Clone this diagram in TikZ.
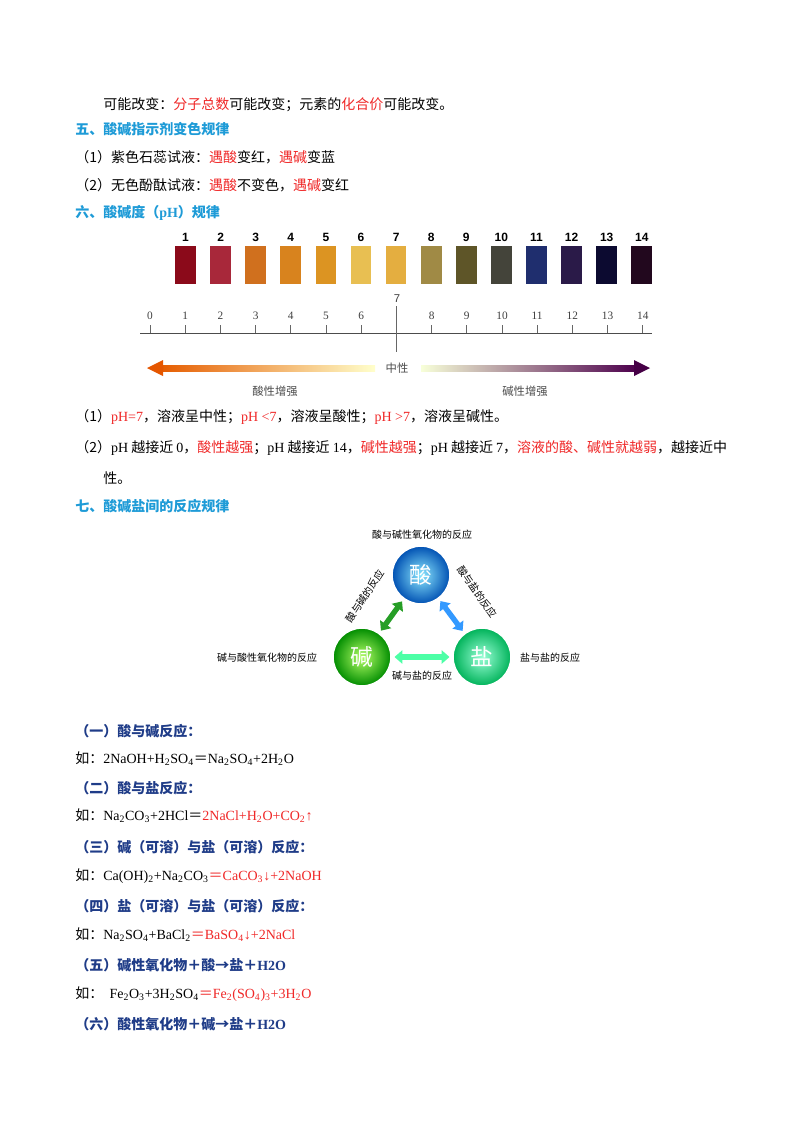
\documentclass[tikz,border=0pt]{standalone}
\usepackage{fontspec}
\setmainfont{Liberation Serif}
\newfontfamily\zh{Noto Sans CJK SC}
\newfontfamily\lsans{Liberation Sans}
\usetikzlibrary{arrows.meta}
\definecolor{hblue}{HTML}{1E9BD7}
\definecolor{dblue}{HTML}{1F3C88}
\definecolor{rd}{HTML}{F02828}
\newcommand\lat[1]{{\rmfamily #1}}
\newcommand\sbs[1]{\textsubscript{#1}}
\newcommand\R[1]{\textcolor{rd}{#1}}
\tikzset{
 txt/.style={anchor=west,inner sep=0,font=\zh\fontsize{10.5}{12}\selectfont},
 head/.style={txt,font=\zh\bfseries\fontsize{10.5}{12}\selectfont,text=hblue},
 subh/.style={txt,font=\zh\bfseries\fontsize{10.5}{12}\selectfont,text=dblue},
 sw/.style={minimum width=15.5pt,minimum height=28.5pt,inner sep=0},
 swn/.style={font=\lsans\bfseries\fontsize{9}{10}\selectfont,inner sep=0},
 axn/.style={font=\rmfamily\fontsize{8.5}{10}\selectfont,inner sep=0,text=black!75},
 lab/.style={font=\zh\fontsize{7.5}{9}\selectfont,inner sep=0},
 ball/.style={circle,minimum size=43.5pt,inner sep=0,draw=white,line width=1.2pt,text=white,font=\zh\fontsize{17}{19}\selectfont},
 dbl/.style={line width=4pt,{Triangle[width=10pt,length=6pt]}-{Triangle[width=10pt,length=6pt]},shorten <=2pt,shorten >=2pt}
}
\begin{document}
\begin{tikzpicture}[x=0.75pt,y=-0.75pt]
\useasboundingbox[fill=white] (0,0) rectangle (800,1132);
\node[txt] (l1) at (103,105) {可能改变：\R{分子总数}可能改变；元素的\R{化合价}可能改变。};
\node[head] (h5) at (75,129) {五、酸碱指示剂变色规律};
\node[txt] (l2) at (75,157) {（1）紫色石蕊试液：\R{遇酸}变红，\R{遇碱}变蓝};
\node[txt] (l3) at (75,185) {（2）无色酚酞试液：\R{遇酸}不变色，\R{遇碱}变红};
\node[head] (h6) at (75,213) {六、酸碱度（\lat{pH}）规律};
% swatches
\foreach \i/\c in {1/8B0A1A,2/A8283A,3/D0701E,4/D8831E,5/DC9422,6/E8BF52,7/E4AE40,8/A08A45,9/5E5528,10/44443A,11/1F2E6E,12/2A1A48,13/0C0A30,14/22081E}{
  \definecolor{swc}{HTML}{\c}
  \node[sw,fill=swc] (s\i) at ({185.5+(\i-1)*35.1},265) {};
  \node[swn] (sn\i) at ({185.5+(\i-1)*35.1},237) {\i};
}
% axis
\coordinate (a0) at (140,333); \coordinate (a1) at (652,333);
\draw[black!70,line width=0.6pt] (a0) -- (a1);
\foreach \i in {0,...,14}{
  \ifnum\i=7\else
  \draw[black!60,line width=0.5pt] ({150+\i*35.2},333) -- ({150+\i*35.2},325);
  \node[axn] (t\i) at ({150+\i*35.2},316) {\i};
  \fi
}
\draw[black!60,line width=0.5pt] (396.4,306) -- (396.4,352);
\node[axn,font=\lsans\fontsize{8.5}{10}\selectfont] (t7) at (397,299) {7};
\shade[left color=orange!80!red!90!black,middle color=yellow!75!orange,right color=yellow!20] (160,365) rectangle (375,371);
\fill[orange!75!red!90!black] (147,368) -- (163,360) -- (163,376) -- cycle;
\shade[left color=green!20!yellow!15,middle color=green!45!black!75,right color=violet!60!black] (421,365) rectangle (637,371);
\fill[violet!55!black] (650,368) -- (634,360) -- (634,376) -- cycle;
\node[lab,font=\zh\fontsize{8.5}{10}\selectfont,text=black!70] (zx) at (397,368) {中性};
\node[lab,font=\zh\fontsize{8.5}{10}\selectfont,text=black!70] (sx) at (275,391) {酸性增强};
\node[lab,font=\zh\fontsize{8.5}{10}\selectfont,text=black!70] (jx) at (525,391) {碱性增强};
% lines
\node[txt] (p1) at (75,417) {（1）\R{\lat{pH=7}}，溶液呈中性；\R{\lat{pH <7}}，溶液呈酸性；\R{\lat{pH >7}}，溶液呈碱性。};
\node[txt] (p2) at (75,448) {（2）\lat{pH} 越接近 \lat{0}，\R{酸性越强}；\lat{pH} 越接近 \lat{14}，\R{碱性越强}；\lat{pH} 越接近 \lat{7}，\R{溶液的酸、碱性就越弱}，越接近中};
\node[txt] (p3) at (103,478) {性。};
\node[head] (h7) at (75,506) {七、酸碱盐间的反应规律};
% triangle
\node[ball,inner color=blue!20!cyan!45,outer color=blue!55!cyan!70!black] (acid) at (421,575) {酸};
\node[ball,inner color=green!50!yellow!60,outer color=green!55!black] (base) at (362,657) {碱};
\node[ball,inner color=green!40!cyan!40,outer color=green!50!cyan!70!black] (salt) at (482,657) {盐};
\draw[dbl,green!55!black!85] (base) -- (acid);
\draw[dbl,blue!50!cyan!80] (acid) -- (salt);
\draw[dbl,green!50!cyan!70] (base) -- (salt);
\node[lab] (la) at (422,535) {酸与碱性氧化物的反应};
\node[lab] (lb) at (267,658) {碱与酸性氧化物的反应};
\node[lab] (lc) at (550,658) {盐与盐的反应};
\node[lab] (ld) at (422,676) {碱与盐的反应};
\node[lab,rotate=57] (le) at (365,596) {酸与碱的反应};
\node[lab,rotate=-55] (lf) at (477,592) {酸与盐的反应};
% reactions
\node[subh] (r1) at (75,731) {（一）酸与碱反应：};
\node[txt] (e1) at (75,759) {如：\lat{2NaOH+H\sbs{2}SO\sbs{4}}＝\lat{Na\sbs{2}SO\sbs{4}+2H\sbs{2}O}};
\node[subh] (r2) at (75,788) {（二）酸与盐反应：};
\node[txt] (e2) at (75,816) {如：\lat{Na\sbs{2}CO\sbs{3}+2HCl}＝\R{\lat{2NaCl+H\sbs{2}O+CO\sbs{2}↑}}};
\node[subh] (r3) at (75,847) {（三）碱（可溶）与盐（可溶）反应：};
\node[txt] (e3) at (75,876) {如：\lat{Ca(OH)\sbs{2}+Na\sbs{2}CO\sbs{3}}\R{＝\lat{CaCO\sbs{3}↓+2NaOH}}};
\node[subh] (r4) at (75,906) {（四）盐（可溶）与盐（可溶）反应：};
\node[txt] (e4) at (75,935) {如：\lat{Na\sbs{2}SO\sbs{4}+BaCl\sbs{2}}\R{＝\lat{BaSO\sbs{4}↓+2NaCl}}};
\node[subh] (r5) at (75,965) {（五）碱性氧化物＋酸→盐＋\lat{\bfseries H2O}};
\node[txt] (e5) at (75,994) {如：\ \ \lat{Fe\sbs{2}O\sbs{3}+3H\sbs{2}SO\sbs{4}}\R{＝\lat{Fe\sbs{2}(SO\sbs{4})\sbs{3}+3H\sbs{2}O}}};
\node[subh] (r6) at (75,1024) {（六）酸性氧化物＋碱→盐＋\lat{\bfseries H2O}};
\end{tikzpicture}
\end{document}
